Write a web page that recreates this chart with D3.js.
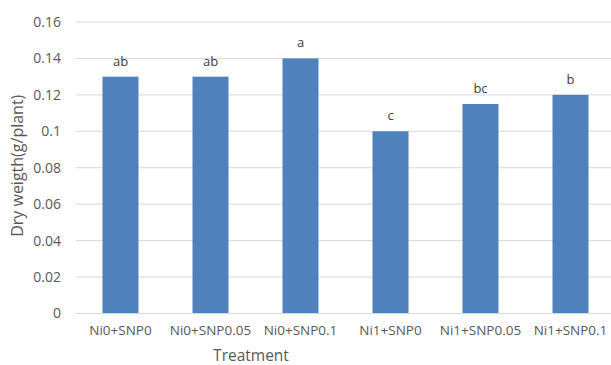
<!DOCTYPE html>
<html>
<head>
<meta charset="utf-8">
<script src="https://cdn.jsdelivr.net/npm/d3@7"></script>
<style>
  html, body { margin: 0; padding: 0; background: #fff; }
  svg { display: block; font-family: "Open Sans", "Liberation Sans", sans-serif; }
</style>
</head>
<body>
<svg id="chart" width="611" height="365"></svg>
<script>
// Dry weight per treatment, with significance letters
const treatments = ["Ni0+SNP0", "Ni0+SNP0.05", "Ni0+SNP0.1", "Ni1+SNP0", "Ni1+SNP0.05", "Ni1+SNP0.1"];
const dryWeight = [0.13, 0.13, 0.14, 0.10, 0.115, 0.12];
const letters = ["ab", "ab", "a", "c", "bc", "b"];
const yTicks = [0, 0.02, 0.04, 0.06, 0.08, 0.1, 0.12, 0.14, 0.16];

const svg = d3.select("#chart");
const margin = { left: 75.5, right: 615.5, top: 22, bottom: 313.5 };
const fontFamily = "Open Sans, Liberation Sans, sans-serif";

const x = d3.scaleBand()
  .domain(treatments)
  .range([margin.left, margin.right])
  .paddingInner(0.6)
  .paddingOuter(0.3);

const y = d3.scaleLinear()
  .domain([0, 0.16])
  .range([margin.bottom, margin.top]);

const textColor = "#595959";

// horizontal gridlines
svg.append("g")
  .selectAll("line")
  .data(yTicks)
  .join("line")
  .attr("x1", margin.left)
  .attr("x2", margin.right)
  .attr("y1", d => y(d))
  .attr("y2", d => y(d))
  .attr("stroke", "#d9d9d9")
  .attr("stroke-width", 1);

// y axis tick labels
const yAxis = d3.axisLeft(y)
  .tickValues(yTicks)
  .tickSize(0)
  .tickPadding(0)
  .tickFormat(d => d3.format("")(+d.toFixed(2)));

svg.append("g")
  .attr("transform", `translate(${61},0)`)
  .call(yAxis)
  .call(g => g.select(".domain").remove())
  .call(g => g.selectAll("text")
    .attr("fill", textColor)
    .attr("font-size", "14px")
    .attr("font-family", fontFamily));

// bars
svg.append("g")
  .selectAll("rect")
  .data(treatments)
  .join("rect")
  .attr("x", d => x(d))
  .attr("width", x.bandwidth())
  .attr("y", (d, i) => y(dryWeight[i]))
  .attr("height", (d, i) => y(0) - y(dryWeight[i]))
  .attr("fill", "#4f81bd");

// baseline
svg.append("line")
  .attr("x1", margin.left).attr("x2", margin.right)
  .attr("y1", y(0)).attr("y2", y(0))
  .attr("stroke", "#d9d9d9");

// significance letters above bars
svg.append("g")
  .selectAll("text")
  .data(treatments)
  .join("text")
  .attr("x", d => x(d) + x.bandwidth() / 2)
  .attr("y", (d, i) => y(dryWeight[i]) - 11)
  .attr("text-anchor", "middle")
  .attr("fill", "#404040")
  .attr("font-size", "13px")
  .text((d, i) => letters[i]);

// x axis category labels
const xAxis = d3.axisBottom(x).tickSize(0).tickPadding(0);
svg.append("g")
  .attr("transform", `translate(0,${y(0) + 12})`)
  .call(xAxis)
  .call(g => g.select(".domain").remove())
  .call(g => g.selectAll("text")
    .attr("fill", textColor)
    .attr("font-size", "13.5px")
    .attr("font-family", fontFamily));

// axis titles
svg.append("text")
  .attr("x", 251)
  .attr("y", 360.5)
  .attr("text-anchor", "middle")
  .attr("fill", textColor)
  .attr("font-size", "15.5px")
  .text("Treatment");

svg.append("text")
  .attr("transform", `translate(23,${(margin.top + margin.bottom) / 2 - 2}) rotate(-90)`)
  .attr("text-anchor", "middle")
  .attr("fill", textColor)
  .attr("font-size", "16px")
  .text("Dry weigth(g/plant)");
</script>
</body>
</html>
